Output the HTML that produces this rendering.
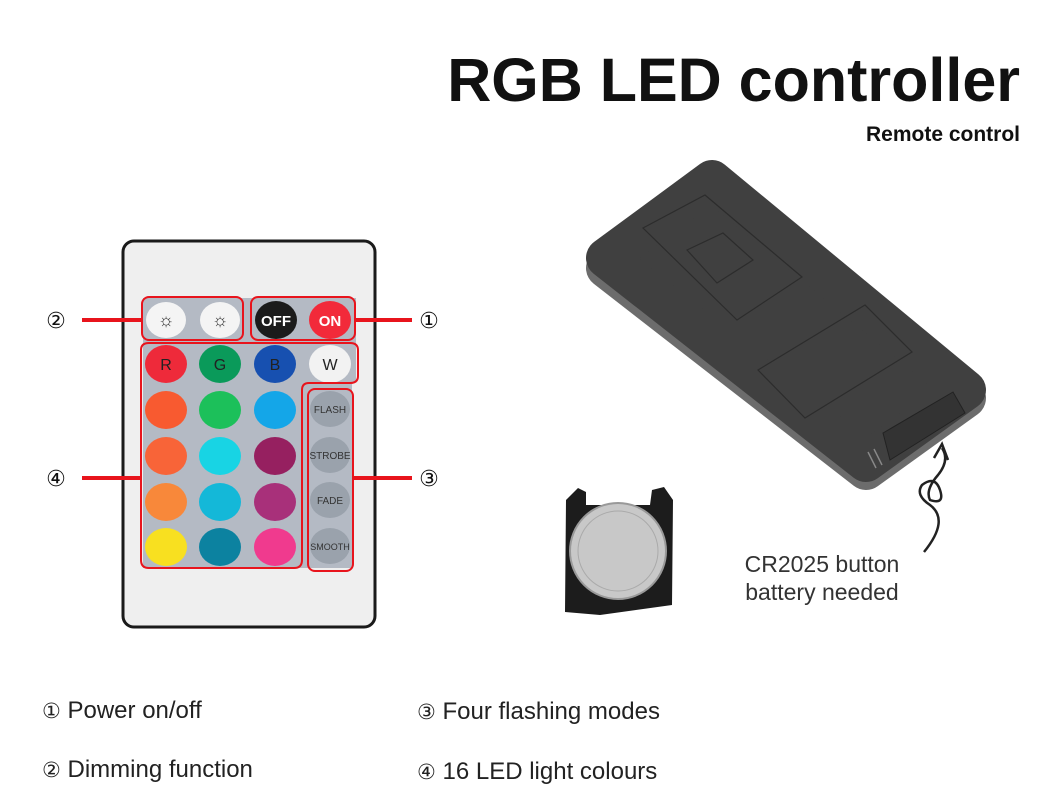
<!DOCTYPE html>
<html><head><meta charset="utf-8"><style>
body{margin:0;background:#fff;}
svg{display:block;font-family:"Liberation Sans","DejaVu Sans",sans-serif;}
</style></head><body>
<svg width="1050" height="800" viewBox="0 0 1050 800">
<rect width="1050" height="800" fill="#fff"/>
<text x="1020" y="101" text-anchor="end" font-size="61" font-weight="bold" fill="#111">RGB LED controller</text>
<text x="1020" y="141" text-anchor="end" font-size="21" font-weight="bold" fill="#111">Remote control</text>

<!-- front remote -->
<rect x="123" y="241" width="252" height="386" rx="11" fill="#efefef" stroke="#1a1a1a" stroke-width="3"/>
<path d="M143 298 H356 V382 H352 V568 H143 Z" fill="#b4bac4"/>
<g font-size="15" text-anchor="middle" font-weight="bold">
<ellipse cx="166" cy="320" rx="20" ry="18" fill="#f4f4f4"/><text x="166" y="326" fill="#333" font-size="18">☼</text>
<ellipse cx="220" cy="320" rx="20" ry="18" fill="#f4f4f4"/><text x="220" y="326" fill="#333" font-size="18">☼</text>
<ellipse cx="276" cy="320" rx="21" ry="19" fill="#1b1b1b"/><text x="276" y="326" fill="#fff">OFF</text>
<ellipse cx="330" cy="320" rx="21" ry="19" fill="#f22a3a"/><text x="330" y="326" fill="#fff">ON</text>
</g>
<g font-size="16" text-anchor="middle">
<ellipse cx="166" cy="364" rx="21" ry="19" fill="#ee2a3a"/><text x="166" y="370" fill="#222">R</text>
<ellipse cx="220" cy="364" rx="21" ry="19" fill="#0a9a5a"/><text x="220" y="370" fill="#222">G</text>
<ellipse cx="275" cy="364" rx="21" ry="19" fill="#1750b0"/><text x="275" y="370" fill="#222">B</text>
<ellipse cx="330" cy="364" rx="21" ry="19" fill="#f2f2f2"/><text x="330" y="370" fill="#222">W</text>
</g>
<ellipse cx="166" cy="410" rx="21" ry="19" fill="#f85a30"/>
<ellipse cx="220" cy="410" rx="21" ry="19" fill="#1cc05a"/>
<ellipse cx="275" cy="410" rx="21" ry="19" fill="#14a6e8"/>
<ellipse cx="166" cy="456" rx="21" ry="19" fill="#f86438"/>
<ellipse cx="220" cy="456" rx="21" ry="19" fill="#18d4e4"/>
<ellipse cx="275" cy="456" rx="21" ry="19" fill="#962060"/>
<ellipse cx="166" cy="502" rx="21" ry="19" fill="#f8883a"/>
<ellipse cx="220" cy="502" rx="21" ry="19" fill="#14b8d8"/>
<ellipse cx="275" cy="502" rx="21" ry="19" fill="#a8307a"/>
<ellipse cx="166" cy="547" rx="21" ry="19" fill="#f8e020"/>
<ellipse cx="220" cy="547" rx="21" ry="19" fill="#0c82a0"/>
<ellipse cx="275" cy="547" rx="21" ry="19" fill="#f03a8e"/>
<g font-size="10" text-anchor="middle" fill="#333">
<ellipse cx="330" cy="409" rx="20" ry="18" fill="#9aa2ac"/><text x="330" y="413">FLASH</text>
<ellipse cx="330" cy="455" rx="20" ry="18" fill="#9aa2ac"/><text x="330" y="459">STROBE</text>
<ellipse cx="330" cy="500" rx="20" ry="18" fill="#9aa2ac"/><text x="330" y="504">FADE</text>
<ellipse cx="330" cy="546" rx="20" ry="18" fill="#9aa2ac"/><text x="330" y="550" font-size="9">SMOOTH</text>
</g>
<g fill="none" stroke="#e8141c" stroke-width="2">
<rect x="142" y="297" width="101" height="43" rx="7"/>
<rect x="251" y="297" width="104" height="43" rx="7"/>
<path d="M149 343 H350 Q358 343 358 350 V376 Q358 383 350 383 H309 Q302 383 302 390 V560 Q302 568 294 568 H149 Q141 568 141 560 V350 Q141 343 149 343 Z"/>
<rect x="308" y="389" width="45" height="182" rx="7"/>
</g>
<g stroke="#e8141c" stroke-width="4">
<line x1="82" y1="320" x2="142" y2="320"/><line x1="355" y1="320" x2="412" y2="320"/>
<line x1="82" y1="478" x2="141" y2="478"/><line x1="353" y1="478" x2="412" y2="478"/>
</g>
<g font-size="22" text-anchor="middle" fill="#111" font-family="'DejaVu Sans',sans-serif">
<text x="56" y="328">②</text><text x="429" y="328">①</text>
<text x="56" y="486">④</text><text x="429" y="486">③</text>
</g>

<!-- back remote (perspective polygon) -->
<path d="M606 268 L712 186 L966 398 L866 470 Z" fill="#6c6c6c" stroke="#6c6c6c" stroke-width="40" stroke-linejoin="round"/>
<path d="M606 258 L712 180 L966 390 L866 462 Z" fill="#404040" stroke="#404040" stroke-width="40" stroke-linejoin="round"/>
<path d="M643 228 L705 195 L802 277 L737 320 Z" fill="none" stroke="#2c2c2c" stroke-width="1.2"/>
<path d="M687 250 L723 233 L753 260 L717 283 Z" fill="none" stroke="#2c2c2c" stroke-width="1.2"/>
<path d="M758 370 L865 305 L912 352 L805 418 Z" fill="none" stroke="#2c2c2c" stroke-width="1.2"/>
<path d="M883 433 L953 392 L965 413 L890 460 Z" fill="#333" stroke="#222"/>
<g stroke="#888" stroke-width="1.5"><line x1="868" y1="452" x2="876" y2="468"/><line x1="874" y1="449" x2="882" y2="465"/></g>

<!-- coin holder -->
<path d="M566 500 L578 488 L586 492 L586 505 L650 505 L652 490 L664 487 L673 500 L672 605 L600 615 L565 612 Z" fill="#1c1c1c"/>
<circle cx="618" cy="551" r="48" fill="#c8c8c8" stroke="#999" stroke-width="2"/>
<circle cx="618" cy="551" r="40" fill="none" stroke="#aaa" stroke-width="1"/>

<!-- arrow -->
<path d="M924 552 Q950 520 930 505 Q915 495 922 485 Q935 475 940 490 Q945 505 930 500 Q925 490 938 475 Q950 460 942 448" fill="none" stroke="#222" stroke-width="2.5"/>
<path d="M934 458 L942 444 L948 460" fill="none" stroke="#222" stroke-width="2.5"/>
<text x="822" y="572" text-anchor="middle" font-size="23" fill="#333">CR2025 button</text>
<text x="822" y="600" text-anchor="middle" font-size="23" fill="#333">battery needed</text>

<!-- legend -->
<g font-size="24" fill="#222">
<text x="42" y="718"><tspan font-family="'DejaVu Sans',sans-serif" font-size="21">①</tspan> Power on/off</text>
<text x="42" y="777"><tspan font-family="'DejaVu Sans',sans-serif" font-size="21">②</tspan> Dimming function</text>
<text x="417" y="719"><tspan font-family="'DejaVu Sans',sans-serif" font-size="21">③</tspan> Four flashing modes</text>
<text x="417" y="779"><tspan font-family="'DejaVu Sans',sans-serif" font-size="21">④</tspan> 16 LED light colours</text>
</g>
</svg>
</body></html>
